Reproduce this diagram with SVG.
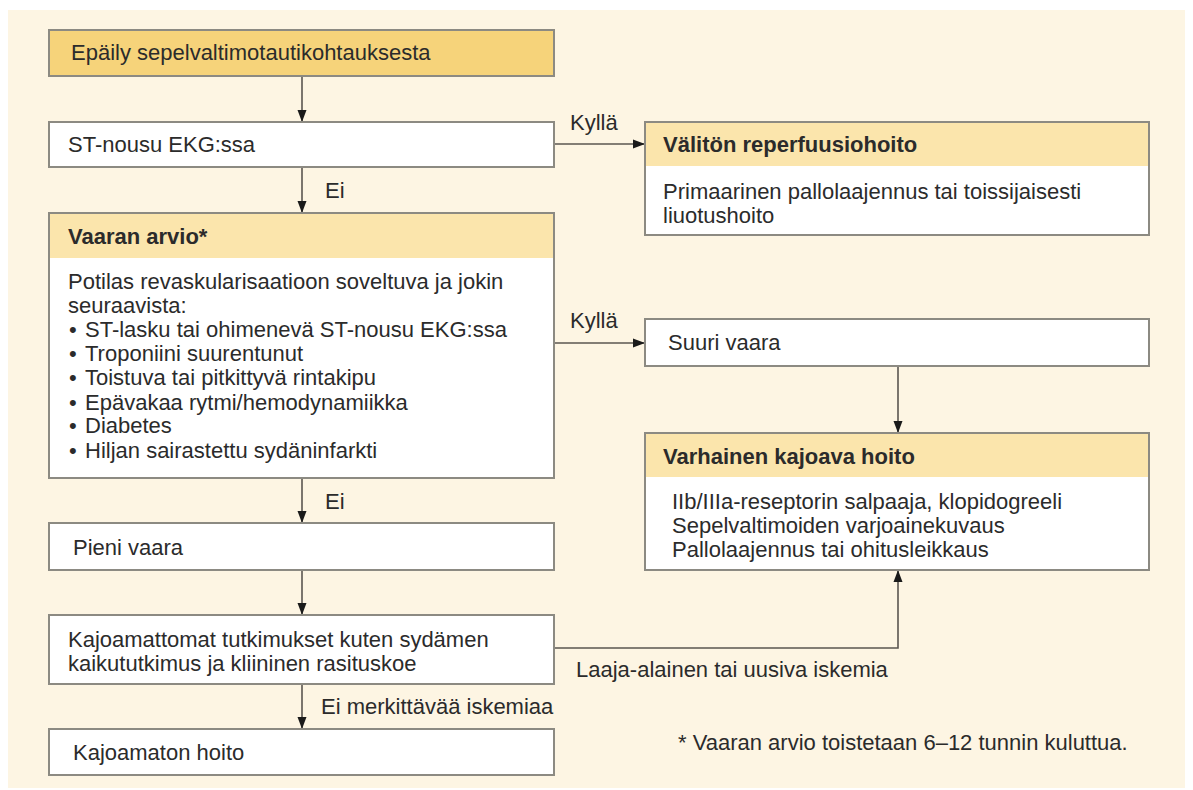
<svg xmlns="http://www.w3.org/2000/svg" width="1193" height="790" viewBox="0 0 1193 790">
<defs>
<marker id="ah" viewBox="0 0 12 10" refX="12" refY="5" markerWidth="12" markerHeight="10" markerUnits="userSpaceOnUse" orient="auto">
<path d="M0,0.5 L12,5 L0,9.5 Z" fill="#1a1a1a"/>
</marker>
<style>
text{font-family:"Liberation Sans",Arial,sans-serif;font-size:22px;fill:#2b2b2b}
.b{font-weight:bold}
.box{fill:#ffffff;stroke:#8c8a82;stroke-width:2}
.main{fill:#f6d37a;stroke:#8c8a82;stroke-width:2}
.hdr{fill:#fbe5ac}
.c{fill:none;stroke:#5a5650;stroke-width:1.6;marker-end:url(#ah)}
</style>
</defs>
<rect x="8" y="10" width="1177" height="778" fill="#fdf5e3"/>
<g id="connectors">
<line class="c" x1="302" y1="76" x2="302" y2="122"/>
<line class="c" x1="554" y1="144" x2="645" y2="144"/>
<line class="c" x1="302" y1="167" x2="302" y2="213"/>
<line class="c" x1="554" y1="343" x2="645" y2="343"/>
<line class="c" x1="898" y1="366" x2="898" y2="433"/>
<line class="c" x1="302" y1="478" x2="302" y2="523"/>
<line class="c" x1="302" y1="570" x2="302" y2="615"/>
<polyline class="c" points="554,648 898,648 898,570"/>
<line class="c" x1="302" y1="684" x2="302" y2="729"/>
<text x="570" y="130">Kyllä</text>
<text x="325" y="198">Ei</text>
<text x="570" y="328">Kyllä</text>
<text x="325" y="509">Ei</text>
<text x="576" y="677">Laaja-alainen tai uusiva iskemia</text>
<text x="321" y="714">Ei merkittävää iskemiaa</text>
</g>
<g id="n-epaily">
<rect class="main" x="49" y="30" width="505" height="46"/>
<text x="71" y="60">Epäily sepelvaltimotautikohtauksesta</text>
</g>
<g id="n-stnousu">
<rect class="box" x="49" y="122" width="505" height="45"/>
<text x="68" y="152">ST-nousu EKG:ssa</text>
</g>
<g id="n-valiton">
<rect class="box" x="645" y="122" width="504" height="113"/>
<rect class="hdr" x="646" y="123" width="502" height="43"/>
<text class="b" x="663" y="152">Välitön reperfuusiohoito</text>
<text x="663" y="199">Primaarinen pallolaajennus tai toissijaisesti</text>
<text x="663" y="223">liuotushoito</text>
</g>
<g id="n-vaaran">
<rect class="box" x="49" y="213" width="505" height="265"/>
<rect class="hdr" x="50" y="214" width="503" height="44"/>
<text class="b" x="68" y="244">Vaaran arvio*</text>
<text x="68" y="289">Potilas revaskularisaatioon soveltuva ja jokin</text>
<text x="68" y="313">seuraavista:</text>
<text x="69" y="337">•</text><text x="85" y="337">ST-lasku tai ohimenevä ST-nousu EKG:ssa</text>
<text x="69" y="361">•</text><text x="85" y="361">Troponiini suurentunut</text>
<text x="69" y="385">•</text><text x="85" y="385">Toistuva tai pitkittyvä rintakipu</text>
<text x="69" y="410">•</text><text x="85" y="410">Epävakaa rytmi/hemodynamiikka</text>
<text x="69" y="433">•</text><text x="85" y="433">Diabetes</text>
<text x="69" y="458">•</text><text x="85" y="458">Hiljan sairastettu sydäninfarkti</text>
</g>
<g id="n-suuri">
<rect class="box" x="645" y="319" width="504" height="47"/>
<text x="668" y="350">Suuri vaara</text>
</g>
<g id="n-varhainen">
<rect class="box" x="645" y="433" width="504" height="137"/>
<rect class="hdr" x="646" y="434" width="502" height="43"/>
<text class="b" x="663" y="464">Varhainen kajoava hoito</text>
<text x="672" y="509">IIb/IIIa-reseptorin salpaaja, klopidogreeli</text>
<text x="672" y="533">Sepelvaltimoiden varjoainekuvaus</text>
<text x="672" y="557">Pallolaajennus tai ohitusleikkaus</text>
</g>
<g id="n-pieni">
<rect class="box" x="49" y="523" width="505" height="47"/>
<text x="73" y="555">Pieni vaara</text>
</g>
<g id="n-kajoamattomat">
<rect class="box" x="49" y="615" width="505" height="69"/>
<text x="68" y="647">Kajoamattomat tutkimukset kuten sydämen</text>
<text x="68" y="671">kaikututkimus ja kliininen rasituskoe</text>
</g>
<g id="n-kajoamaton">
<rect class="box" x="49" y="729" width="505" height="46"/>
<text x="73" y="760">Kajoamaton hoito</text>
</g>
<g id="footnote">
<text x="678" y="750">* Vaaran arvio toistetaan 6–12 tunnin kuluttua.</text>
</g>
</svg>
